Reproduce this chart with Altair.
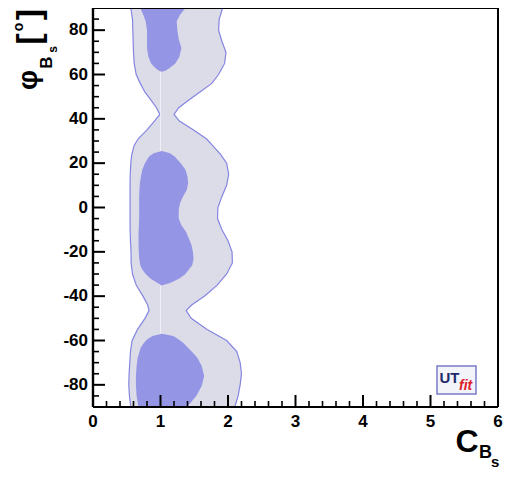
import altair as alt
import pandas as pd

# ---------------- data ----------------
# outer (light) region: phi (deg) and left/right C_Bs boundaries
phi_out = [90, 85, 80, 75, 70, 65, 60, 56, 52, 48, 45, 42, 39, 35, 31, 28, 24, 20, 15, 10,
           5, 0, -5, -10, -15, -20, -25, -30, -35, -40, -44, -46.5, -50, -55, -60, -65,
           -70, -75, -80, -85, -90]
left_out = [0.56, 0.585, 0.59, 0.595, 0.60, 0.61, 0.64, 0.70, 0.77, 0.87, 0.94, 0.99, 0.91, 0.80,
            0.67, 0.61, 0.575, 0.56, 0.552, 0.549, 0.549, 0.549, 0.549, 0.55, 0.555, 0.564,
            0.565, 0.585, 0.64, 0.74, 0.81, 0.83, 0.77, 0.66, 0.58, 0.555, 0.545, 0.535, 0.53,
            0.54, 0.56]
right_out = [1.92, 1.87, 1.86, 1.91, 1.97, 1.95, 1.86, 1.76, 1.58, 1.40, 1.27, 1.20, 1.28, 1.49,
             1.68, 1.77, 1.89, 1.98, 2.01, 1.98, 1.91, 1.85, 1.845, 1.91, 2.00, 2.06, 2.065,
             1.98, 1.84, 1.65, 1.46, 1.38, 1.455, 1.69, 1.98, 2.13, 2.18, 2.20, 2.18, 2.15, 2.10]

# inner (dark) regions
phi_in_top = [90, 87, 84, 80, 76, 72, 68, 65, 63, 61.8, 61.2]
left_in_top = [0.70, 0.745, 0.78, 0.80, 0.80, 0.80, 0.82, 0.86, 0.92, 0.97, 1.02]
right_in_top = [1.37, 1.29, 1.24, 1.25, 1.27, 1.31, 1.28, 1.22, 1.14, 1.08, 1.02]

phi_in_mid = [25.5, 24.5, 23, 20, 17, 14, 11, 8, 5, 2, -1, -5, -8, -11, -14, -17, -20, -23,
              -26, -28, -30, -32, -34, -35.2]
left_in_mid = [1.02, 0.90, 0.83, 0.77, 0.73, 0.71, 0.694, 0.688, 0.684, 0.684, 0.684, 0.684,
               0.68, 0.675, 0.675, 0.675, 0.678, 0.684, 0.70, 0.73, 0.78, 0.85, 0.95, 1.02]
right_in_mid = [1.02, 1.14, 1.21, 1.30, 1.37, 1.40, 1.41, 1.39, 1.335, 1.29, 1.27, 1.27, 1.31,
                1.38, 1.42, 1.46, 1.48, 1.49, 1.47, 1.42, 1.37, 1.28, 1.15, 1.02]

phi_in_bot = [-57, -58, -59.5, -61, -63, -65.5, -68, -71.5, -76, -80.5, -85, -88.7, -90]
left_in_bot = [1.02, 0.88, 0.80, 0.756, 0.71, 0.684, 0.66, 0.646, 0.636, 0.636, 0.646, 0.665, 0.67]
right_in_bot = [1.02, 1.19, 1.27, 1.335, 1.40, 1.48, 1.55, 1.61, 1.647, 1.61, 1.53, 1.43, 1.40]

# faint seam at C = 1
seam_x = [1.0, 1.0]
seam_y1 = [61.2, -35.2]
seam_y2 = [25.5, -57.0]

# axis ticks / labels
x_major = [0, 1, 2, 3, 4, 5, 6]
x_labels = ["0", "1", "2", "3", "4", "5", "6"]
x_minor = [0.2, 0.4, 0.6, 0.8, 1.2, 1.4, 1.6, 1.8, 2.2, 2.4, 2.6, 2.8, 3.2, 3.4, 3.6, 3.8,
           4.2, 4.4, 4.6, 4.8, 5.2, 5.4, 5.6, 5.8]
y_major = [-80, -60, -40, -20, 0, 20, 40, 60, 80]
y_labels = ["-80", "-60", "-40", "-20", "0", "20", "40", "60", "80"]
y_minor = [-85, -75, -70, -65, -55, -50, -45, -35, -30, -25, -15, -10, -5, 5, 10, 15, 25, 30,
           35, 45, 50, 55, 65, 70, 75, 85]

# texts
y_title = ["φ", "B", "s", "[", "o", "]"]
x_title = ["C", "B", "s"]
logo_text = ["UT", "fit"]

# ---------------- styling ----------------
W, H = 405, 399
FONT = "Liberation Sans"
OUTER_FILL = "#dcdce8"
INNER_FILL = "#9595e6"
EDGE = "#8585e2"

xs = alt.Scale(domain=[0, 6], nice=False, zero=False)
ys = alt.Scale(domain=[-90, 90], nice=False, zero=False)

outer_df = pd.DataFrame({"phi": phi_out, "lo": left_out, "hi": right_out})
inner_df = pd.concat([
    pd.DataFrame({"phi": phi_in_top, "lo": left_in_top, "hi": right_in_top, "blob": "top"}),
    pd.DataFrame({"phi": phi_in_mid, "lo": left_in_mid, "hi": right_in_mid, "blob": "mid"}),
    pd.DataFrame({"phi": phi_in_bot, "lo": left_in_bot, "hi": right_in_bot, "blob": "bot"}),
])

outer = alt.Chart(outer_df).mark_area(orient="horizontal", color=OUTER_FILL).encode(
    y=alt.Y("phi:Q", scale=ys, axis=None),
    x=alt.X("lo:Q", scale=xs, axis=None),
    x2="hi:Q",
)
edge_lo = alt.Chart(outer_df).mark_line(color=EDGE, strokeWidth=1.2).encode(
    x=alt.X("lo:Q", axis=None), y=alt.Y("phi:Q", axis=None), order="phi:Q")
edge_hi = alt.Chart(outer_df).mark_line(color=EDGE, strokeWidth=1.2).encode(
    x=alt.X("hi:Q", axis=None), y=alt.Y("phi:Q", axis=None), order="phi:Q")

inner = alt.Chart(inner_df).mark_area(orient="horizontal", color=INNER_FILL).encode(
    y=alt.Y("phi:Q", axis=None),
    x=alt.X("lo:Q", axis=None),
    x2="hi:Q",
    detail="blob:N",
)

seam = alt.Chart(pd.DataFrame({"x": seam_x, "y1": seam_y1, "y2": seam_y2})).mark_rule(
    color="white", opacity=0.55, strokeWidth=1).encode(
    x=alt.X("x:Q", axis=None), y=alt.Y("y1:Q", axis=None), y2="y2:Q")


def xticks(vals, length, sw):
    return alt.Chart(pd.DataFrame({"v": vals})).mark_rule(color="black", strokeWidth=sw).encode(
        x=alt.X("v:Q", axis=None), y=alt.value(H), y2=alt.value(H - length))


def yticks(vals, length, sw):
    return alt.Chart(pd.DataFrame({"v": vals})).mark_rule(color="black", strokeWidth=sw).encode(
        y=alt.Y("v:Q", axis=None), x=alt.value(0), x2=alt.value(length))


xlab = alt.Chart(pd.DataFrame({"v": x_major, "t": x_labels})).mark_text(
    font=FONT, fontSize=17, fontWeight="bold", color="black", align="center",
    baseline="alphabetic").encode(x=alt.X("v:Q", axis=None), y=alt.value(H + 20), text="t:N")
ylab = alt.Chart(pd.DataFrame({"v": y_major, "t": y_labels})).mark_text(
    font=FONT, fontSize=17, fontWeight="bold", color="black", align="right",
    baseline="middle").encode(y=alt.Y("v:Q", axis=None), x=alt.value(-5), text="t:N")

frame = [
    alt.Chart().mark_rule(color="black", strokeWidth=2).encode(
        x=alt.value(0), x2=alt.value(W), y=alt.value(0)),
    alt.Chart().mark_rule(color="black", strokeWidth=2).encode(
        x=alt.value(0), x2=alt.value(W), y=alt.value(H)),
    alt.Chart().mark_rule(color="black", strokeWidth=2.4).encode(
        x=alt.value(0), y=alt.value(0), y2=alt.value(H)),
    alt.Chart().mark_rule(color="black", strokeWidth=2).encode(
        x=alt.value(W), y=alt.value(0), y2=alt.value(H)),
]


def txt(t, x, y, size, angle=0, align="left", color="black", style="normal", weight="bold"):
    return alt.Chart(pd.DataFrame({"t": [t]})).mark_text(
        font=FONT, fontSize=size, fontWeight=weight, fontStyle=style, angle=angle,
        align=align, baseline="alphabetic", color=color,
    ).encode(text="t:N", x=alt.value(x), y=alt.value(y))


titles = [
    # y title  φ_{B_s} [°]  (rotated)
    txt(y_title[0], -56, 72, 28, angle=270, align="center"),
    txt(y_title[1], -41, 54.5, 17, angle=270, align="center"),
    txt(y_title[2], -36, 41.5, 12, angle=270, align="center"),
    txt(y_title[3], -53, 31, 34, angle=270, align="center"),
    txt(y_title[4], -70, 19, 14, angle=270, align="center"),
    txt(y_title[5], -53, 6.5, 34, angle=270, align="center"),
    # x title  C_{B_s}
    txt(x_title[0], 362.5, 444, 32),
    txt(x_title[1], 386, 450, 18),
    txt(x_title[2], 398, 459, 15),
]

logo = [
    alt.Chart().mark_rect(fill="#f3f3fa", stroke="#7b7bc8", strokeWidth=1.5).encode(
        x=alt.value(344), x2=alt.value(383), y=alt.value(358), y2=alt.value(386)),
    txt(logo_text[0], 346.5, 375, 15, color="#1f2a6b"),
    txt(logo_text[1], 366, 382, 14, color="#e0202a", style="italic"),
]

chart = alt.layer(
    outer, edge_lo, edge_hi, inner, seam,
    xticks(x_major, 12, 2), xticks(x_minor, 6, 1.6),
    yticks(y_major, 12, 2), yticks(y_minor, 6, 1.6),
    xlab, ylab,
    *frame, *titles, *logo,
).properties(
    width=W, height=H,
    padding={"left": 85, "top": 0, "right": 6, "bottom": 63},
    autosize=alt.AutoSizeParams(type="none"),
).configure_view(stroke=None)

chart.save("out.html", embed_options={"renderer": "svg", "actions": False})
